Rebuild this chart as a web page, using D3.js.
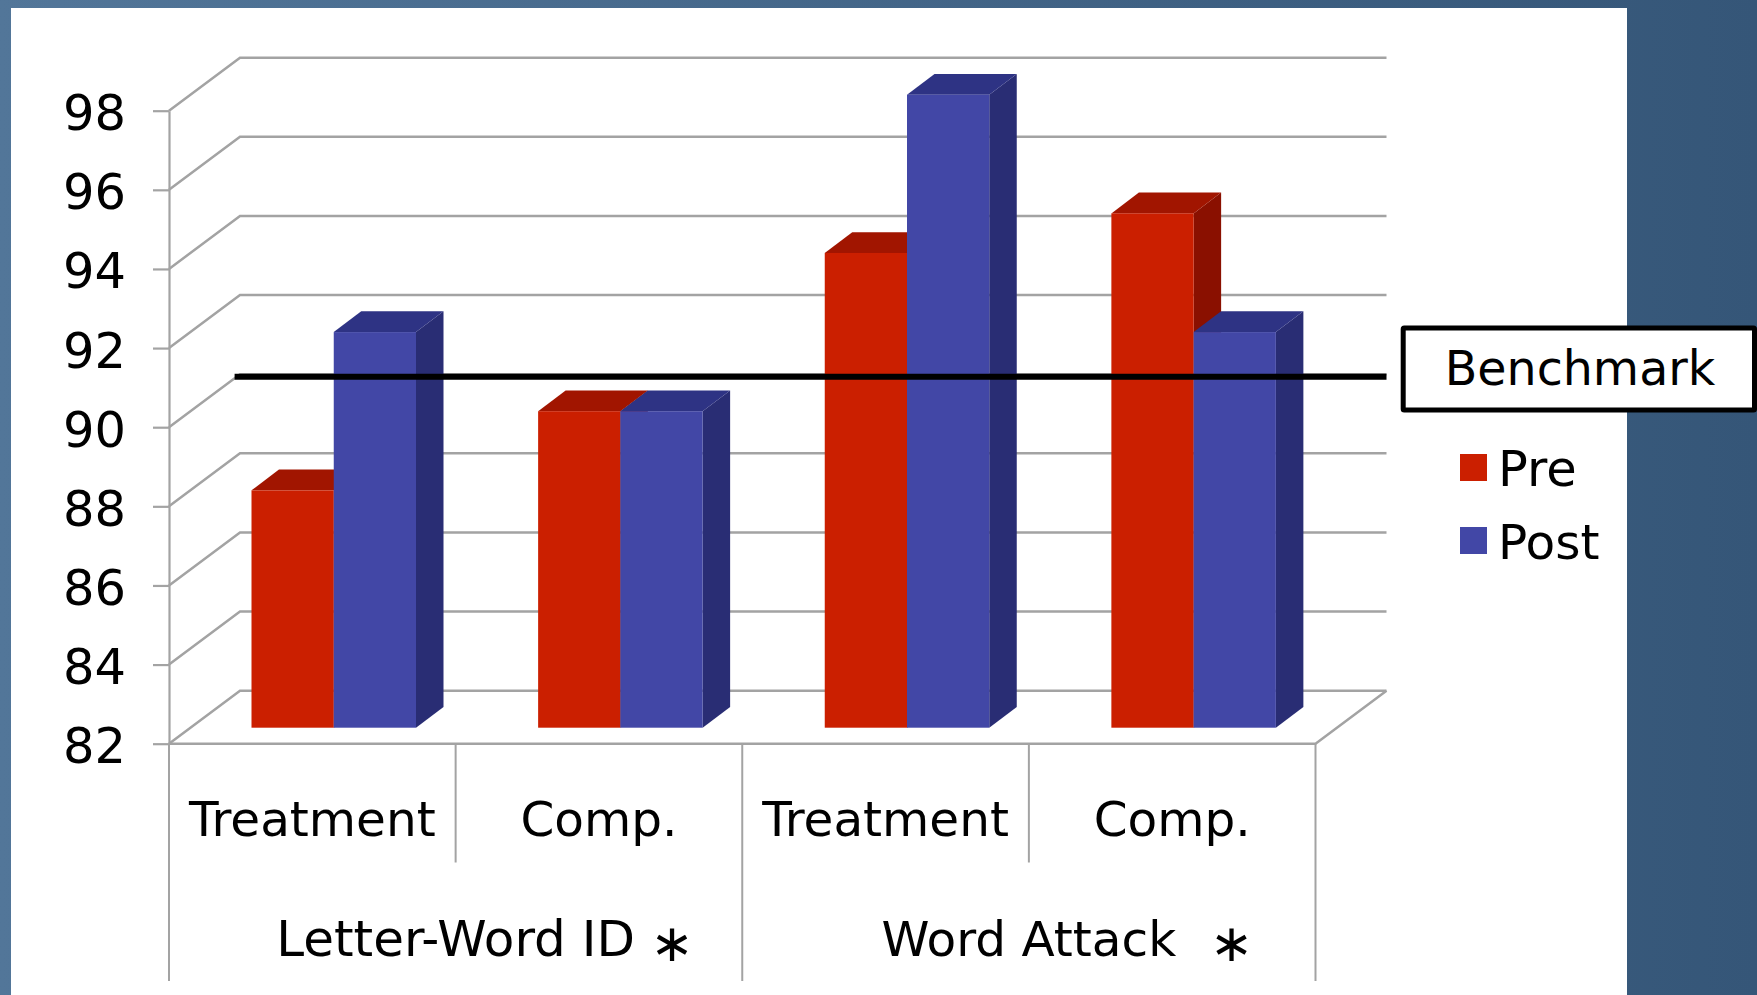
<!DOCTYPE html>
<html>
<head>
<meta charset="utf-8">
<script src="https://cdn.jsdelivr.net/npm/d3@7"></script>
<style>
  html, body { margin: 0; padding: 0; background: #fff; }
  svg { display: block; }
  text { font-family: "DejaVu Sans", sans-serif; fill: #000; }
</style>
</head>
<body>
<svg id="chart" width="1757" height="995"></svg>
<script>
// Reading scores before and after the programme, by measure and group.
const measures = ["Letter-Word ID", "Word Attack"];
const groups = ["Treatment", "Comp.", "Treatment", "Comp."];
const series = ["Pre", "Post"];
const preValues = [88, 90, 94, 95];
const postValues = [92, 90, 98, 92];
const yTicks = [82, 84, 86, 88, 90, 92, 94, 96, 98];
const benchmarkValue = 91;
const benchmarkLabel = "Benchmark";
const significanceMark = "\u2217";

const colors = {
  Pre:  { front: "#cb1f00", top: "#a11500", side: "#8a1000" },
  Post: { front: "#4247a6", top: "#2e3384", side: "#292d74" }
};
const gridColor = "#a3a3a3";
const font = '"DejaVu Sans", sans-serif';
const tickSize = 49.5;
const groupSize = 48.5;
const measureSize = { "Letter-Word ID": 50, "Word Attack": 48.5 };
const legendSize = { Pre: 49.5, Post: 48.5 };

const svg = d3.select("#chart");
const defs = svg.append("defs");
const bg = defs.append("linearGradient").attr("id", "frame").attr("x1", 0).attr("x2", 1).attr("y1", 0).attr("y2", 0);
bg.append("stop").attr("offset", "0%").attr("stop-color", "#527699");
bg.append("stop").attr("offset", "100%").attr("stop-color", "#355678");

// Slide frame and white chart panel
svg.append("rect").attr("width", 1757).attr("height", 995).attr("fill", "url(#frame)");
svg.append("rect").attr("x", 11).attr("y", 8).attr("width", 1616).attr("height", 987).attr("fill", "#fff");

// Scales for the front plane of the 3-D box
const y = d3.scaleLinear().domain([82, 98]).range([743.7, 110.7]);
const catIds = groups.map((_, i) => i);
const x = d3.scaleBand().domain(catIds).range([169, 1315.5]);
const xInner = d3.scaleBand().domain(series).range([82.5, 247]);

// Depth of the box and of a single bar
const wall = { dx: 71, dy: -53 };
const bar = { dx: 27.5, dy: -20.8 };
const barLift = -16;

const line = d3.line();

// Receding gridlines on the side and back walls
const grid = svg.append("g").attr("fill", "none").attr("stroke", gridColor).attr("stroke-width", 2.5);
grid.selectAll("path").data(yTicks).join("path")
  .attr("d", v => line([
    [x.range()[0], y(v)],
    [x.range()[0] + wall.dx, y(v) + wall.dy],
    [x.range()[1] + wall.dx, y(v) + wall.dy]
  ]));

// Floor edge on the right and along the front
grid.append("path").attr("d", line([
  [x.range()[0], y(82)],
  [x.range()[1], y(82)],
  [x.range()[1] + wall.dx, y(82) + wall.dy]
]));

// Value axis
const yAxis = svg.append("g")
  .attr("transform", `translate(${x.range()[0]},0)`)
  .call(d3.axisLeft(y).tickValues(yTicks).tickSize(16).tickSizeOuter(0).tickPadding(27));
yAxis.select(".domain").attr("stroke", gridColor).attr("stroke-width", 2.2);
yAxis.selectAll("line").attr("stroke", gridColor).attr("stroke-width", 2.2);
yAxis.selectAll("text")
  .attr("font-size", tickSize).attr("font-family", font)
  .attr("fill", "#000").attr("dy", 19);

// Category separators below the floor
const seps = svg.append("g").attr("stroke", gridColor).attr("stroke-width", 2);
d3.range(groups.length + 1).forEach(i => {
  const px = x.range()[0] + i * x.step();
  seps.append("line").attr("x1", px).attr("x2", px)
    .attr("y1", y(82)).attr("y2", i % 2 === 0 ? 981 : 862.5);
});

// Bars: side and top faces first, then the front, so each Post bar overlaps its Pre neighbour
const rows = catIds.flatMap(i => [
  { cat: i, name: "Pre", value: preValues[i] },
  { cat: i, name: "Post", value: postValues[i] }
]);
const bars = svg.append("g").selectAll("g").data(rows).join("g");

bars.each(function (d) {
  const g = d3.select(this);
  const x0 = x(d.cat) + xInner(d.name);
  const x1 = x0 + xInner.bandwidth();
  const yTop = y(d.value) + barLift;
  const yBase = y(82) + barLift;
  const c = colors[d.name];
  g.append("path").attr("fill", c.side).attr("d", line([
    [x1, yTop], [x1 + bar.dx, yTop + bar.dy], [x1 + bar.dx, yBase + bar.dy], [x1, yBase]
  ]) + "Z");
  g.append("path").attr("fill", c.top).attr("d", line([
    [x0, yTop], [x0 + bar.dx, yTop + bar.dy], [x1 + bar.dx, yTop + bar.dy], [x1, yTop]
  ]) + "Z");
  g.append("rect").attr("fill", c.front)
    .attr("x", x0).attr("y", yTop).attr("width", x1 - x0).attr("height", yBase - yTop);
});

// Category labels
const xAxis = svg.append("g")
  .attr("transform", `translate(0,${y(82)})`)
  .call(d3.axisBottom(x).tickSize(0).tickFormat(i => groups[i]));
xAxis.select(".domain").remove();
xAxis.selectAll("text")
  .attr("font-size", groupSize).attr("font-family", font)
  .attr("fill", "#000").attr("y", 92).attr("dy", 0);

// Measure labels, each centred under its two groups, with a significance mark
const measureScale = d3.scaleBand().domain(measures).range(x.range());
const measureLabels = svg.append("g").selectAll("g").data(measures).join("g");
measureLabels.append("text")
  .attr("x", m => measureScale(m) + measureScale.bandwidth() / 2)
  .attr("y", 956).attr("text-anchor", "middle")
  .attr("font-size", m => measureSize[m]).text(m => m);
const markX = { "Letter-Word ID": 672, "Word Attack": 1231.5 };
measureLabels.append("text")
  .attr("x", m => markX[m]).attr("y", 960.5).attr("text-anchor", "middle")
  .attr("font-size", 52).text(significanceMark);

// Benchmark line and its label
svg.append("line")
  .attr("x1", 234.6).attr("x2", x.range()[1] + wall.dx)
  .attr("y1", y(benchmarkValue) - 11).attr("y2", y(benchmarkValue) - 11)
  .attr("stroke", "#000").attr("stroke-width", 6);
svg.append("rect")
  .attr("x", 1403.2).attr("y", 328).attr("width", 351.3).attr("height", 82)
  .attr("rx", 1).attr("fill", "#fff").attr("stroke", "#000").attr("stroke-width", 5);
svg.append("text").attr("x", 1580).attr("y", 385).attr("text-anchor", "middle")
  .attr("font-size", 47.5).text(benchmarkLabel);

// Legend
const legendY = d3.scalePoint().domain(series).range([467.5, 540.5]);
const legend = svg.append("g").selectAll("g").data(series).join("g")
  .attr("transform", s => `translate(1460,${legendY(s)})`);
legend.append("rect").attr("y", -13.5).attr("width", 27).attr("height", 27).attr("fill", s => colors[s].front);
legend.append("text").attr("x", 38).attr("y", s => s === "Pre" ? 18 : 18.5)
  .attr("font-size", s => legendSize[s]).text(s => s);
</script>
</body>
</html>
